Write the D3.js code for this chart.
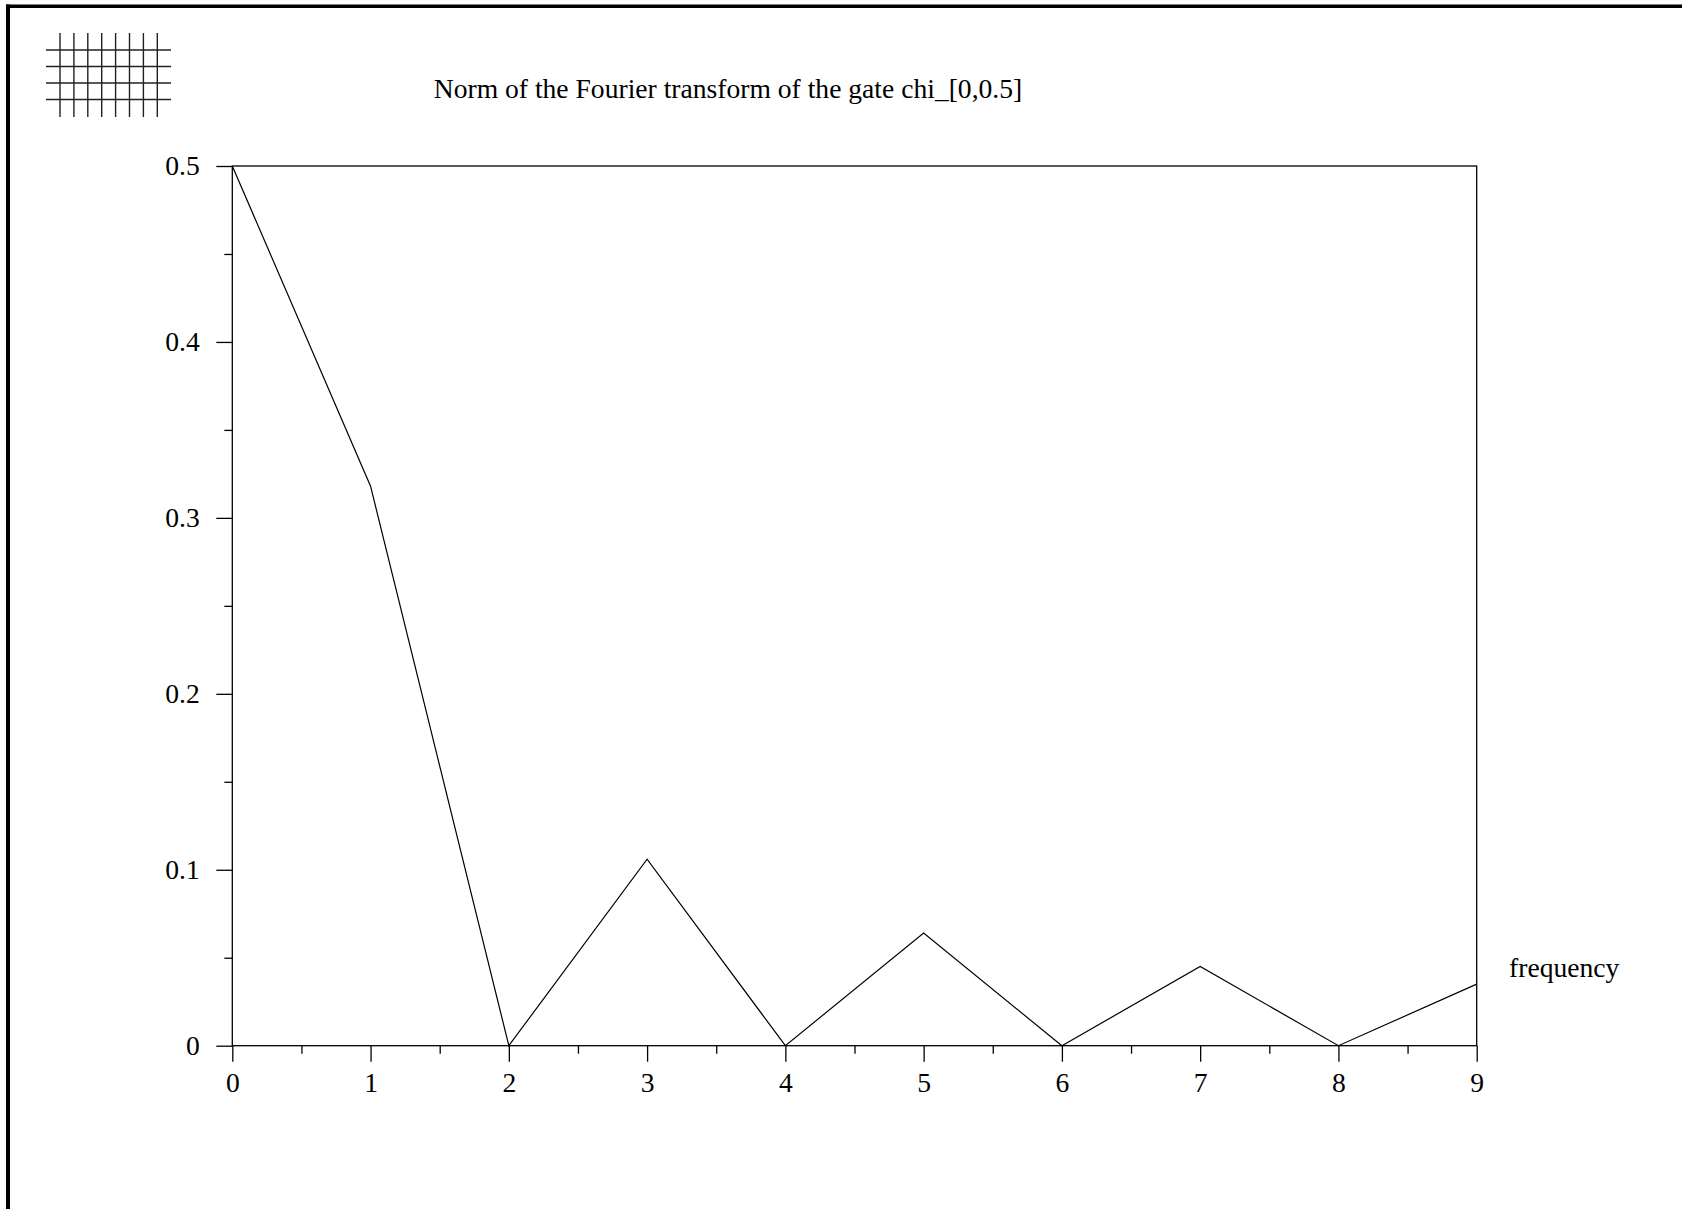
<!DOCTYPE html>
<html>
<head>
<meta charset="utf-8">
<script src="https://cdn.jsdelivr.net/npm/d3@7"></script>
<style>
html,body{margin:0;padding:0;background:#fff;}
svg{display:block;}
text{font-family:"Liberation Serif","Times New Roman",serif;fill:#000;}
</style>
</head>
<body>
<script>
// Data
const frequencies = [0, 1, 2, 3, 4, 5, 6, 7, 8, 9];
const norms = [0.5, 0.318, 0, 0.106, 0, 0.064, 0, 0.045, 0, 0.035];
const xTickValues = [0, 1, 2, 3, 4, 5, 6, 7, 8, 9];
const xMinorTickValues = [0.5, 1.5, 2.5, 3.5, 4.5, 5.5, 6.5, 7.5, 8.5];
const yTickValues = [0, 0.1, 0.2, 0.3, 0.4, 0.5];
const yMinorTickValues = [0.05, 0.15, 0.25, 0.35, 0.45];
const titleText = "Norm of the Fourier transform of the gate chi_[0,0.5]";
const xLabelText = "frequency";

(function () {
const W = 1682, H = 1209;
const pLeft = 232.3, pRight = 1476.7, pTop = 166, pBottom = 1045.7;
const fs = 27.6;

const svg = d3.select("body").append("svg").attr("width", W).attr("height", H);

// page border (top and left)
svg.append("rect").attr("x", 6).attr("y", 4.5).attr("width", W - 6).attr("height", 3.5).attr("fill", "#000");
svg.append("rect").attr("x", 6).attr("y", 4.5).attr("width", 4).attr("height", H).attr("fill", "#000");

// grid icon
const icon = svg.append("g").attr("stroke", "#222").attr("stroke-width", 1.4);
d3.range(8).forEach(i => {
  const xx = 60 + i * 13.9;
  icon.append("line").attr("x1", xx).attr("x2", xx).attr("y1", 33).attr("y2", 117);
});
d3.range(4).forEach(i => {
  const yy = 50 + i * 16.5;
  icon.append("line").attr("x1", 46).attr("x2", 171).attr("y1", yy).attr("y2", yy);
});

const x = d3.scaleLinear().domain([0, 9]).range([pLeft, pRight]);
const y = d3.scaleLinear().domain([0, 0.5]).range([pBottom, pTop]);

// title
svg.append("text").attr("x", 728).attr("y", 98).attr("text-anchor", "middle")
  .attr("font-size", fs).text(titleText);

// frame
svg.append("rect").attr("x", pLeft).attr("y", pTop).attr("width", pRight - pLeft).attr("height", pBottom - pTop)
  .attr("fill", "none").attr("stroke", "#000").attr("stroke-width", 1.3);

function styleAxis(g) {
  g.attr("font-family", "Liberation Serif, serif").attr("font-size", fs);
  g.select(".domain").remove();
  g.selectAll("line").attr("stroke", "#000").attr("stroke-width", 1.3);
  g.selectAll("text").attr("font-size", fs).attr("font-family", "Liberation Serif, serif").attr("fill", "#000");
}

// x axis
svg.append("g").attr("transform", `translate(0,${pBottom})`)
  .call(d3.axisBottom(x).tickValues(xMinorTickValues).tickSize(8).tickFormat(""))
  .call(styleAxis);
svg.append("g").attr("transform", `translate(0,${pBottom})`)
  .call(d3.axisBottom(x).tickValues(xTickValues).tickSize(16).tickPadding(11).tickFormat(d3.format("d")))
  .call(styleAxis);

// y axis
svg.append("g").attr("transform", `translate(${pLeft},0)`)
  .call(d3.axisLeft(y).tickValues(yMinorTickValues).tickSize(8).tickFormat(""))
  .call(styleAxis);
svg.append("g").attr("transform", `translate(${pLeft},0)`)
  .call(d3.axisLeft(y).tickValues(yTickValues).tickSize(16).tickPadding(16.5).tickFormat(d => d === 0 ? "0" : d3.format(".1f")(d)))
  .call(styleAxis);

// data line
const pts = frequencies.map((f, i) => [f, norms[i]]);
svg.append("path").datum(pts)
  .attr("d", d3.line().x(d => x(d[0])).y(d => y(d[1])))
  .attr("fill", "none").attr("stroke", "#000").attr("stroke-width", 1.2);

// x label
svg.append("text").attr("x", 1509).attr("y", 977).attr("font-size", fs).text(xLabelText);
})();
</script>
</body>
</html>
